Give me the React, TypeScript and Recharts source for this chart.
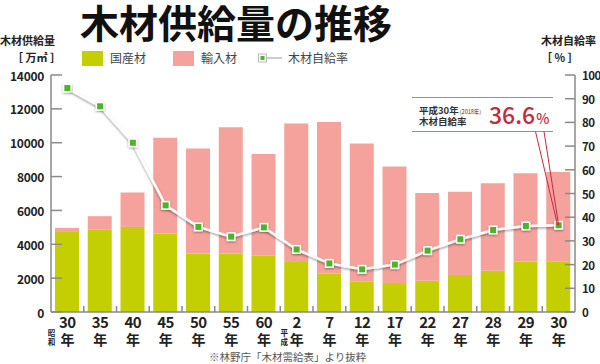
// 木材供給量の推移 — 国産材/輸入材の積み上げ棒と木材自給率の折れ線
import { Bar, ComposedChart, Line, ReferenceDot, XAxis, YAxis } from 'recharts'

// 年次キー（昭和30年と平成30年が重なるので元号の頭文字つき）
const years = ['S30', 'S35', 'S40', 'S45', 'S50', 'S55', 'S60', 'H2', 'H7', 'H12', 'H17', 'H22', 'H27', 'H28', 'H29', 'H30']
const yearLabels = ['30', '35', '40', '45', '50', '55', '60', '2', '7', '12', '17', '22', '27', '28', '29', '30']
// 国産材・輸入材 [万㎥]
const domestic = [4730, 4890, 5030, 4630, 3460, 3460, 3330, 2950, 2280, 1790, 1710, 1840, 2190, 2440, 2980, 3000]
const imported = [240, 770, 2030, 5660, 6200, 7460, 6000, 8190, 8940, 8170, 6890, 5190, 4920, 5160, 5210, 5270]
// 木材自給率 [%]
const selfRate = [94.5, 86.8, 71.4, 45.0, 35.9, 31.8, 35.7, 26.4, 20.5, 18.0, 20.0, 25.9, 30.7, 34.6, 36.3, 36.6]
const leftTicks = [0, 2000, 4000, 6000, 8000, 10000, 12000, 14000]
const rightTicks = [0, 10, 20, 30, 40, 50, 60, 70, 80, 90, 100]
const eraLabels: Record<string, string[]> = { S30: ['昭', '和'], H2: ['平', '成'] }

const data = years.map((y, i) => ({
  year: y,
  label: yearLabels[i],
  domestic: domestic[i],
  imported: imported[i],
  rate: selfRate[i],
}))

const W = 600
const H = 364
const LEFT_W = 51
const RIGHT_W = 25
const TOP = 75
const X_H = 52
const BAND = (W - LEFT_W - RIGHT_W) / years.length

const FONT = '"Noto Sans CJK JP", "Noto Sans", sans-serif'
const AXIS = '#8a8a8a'
const GREEN_BAR = '#c3ce03'
const PINK_BAR = '#f4a29b'
const DOT_GREEN = '#4cb52c'
const RED = '#c62a3c'

function LeftTick({ x, y, payload }: any) {
  return (
    <g>
      <line x1={x + 7} x2={x + 18} y1={y} y2={y} stroke={AXIS} strokeWidth={1.5} />
      <text x={x} y={y} textAnchor="end" dominantBaseline="central" fontSize={12} fontWeight={700} fill="#222" fontFamily={FONT} letterSpacing={-0.3}>
        {payload.value}
      </text>
    </g>
  )
}

function RightTick({ x, y, payload }: any) {
  return (
    <g>
      <line x1={x - 8} x2={x - 18} y1={y} y2={y} stroke={AXIS} strokeWidth={1.5} />
      <text x={x - 1} y={y} textAnchor="start" dominantBaseline="central" fontSize={11.5} fontWeight={700} fill="#222" fontFamily={FONT} letterSpacing={-0.5}>
        {payload.value}
      </text>
    </g>
  )
}

function YearTick({ x, y, payload, index }: any) {
  const era = eraLabels[payload.value]
  const eraDx = payload.value === 'S30' ? -16 : -12.5
  return (
    <g fontFamily={FONT} fill="#222">
      {/* 区切りの目盛り（内向き） */}
      {index > 0 && <line x1={x - BAND / 2} x2={x - BAND / 2} y1={y} y2={y - 6} stroke={AXIS} strokeWidth={1.5} />}
      <text x={x} y={y + 16} textAnchor="middle" fontSize={15} fontWeight={700} letterSpacing={-0.5}>
        {yearLabels[index]}
      </text>
      <text x={x} y={y + 33} textAnchor="middle" fontSize={14} fontWeight={700}>
        年
      </text>
      {era && (
        <g fontSize={7.5} fontWeight={700}>
          <text x={x + eraDx} y={y + 24} textAnchor="middle">{era[0]}</text>
          <text x={x + eraDx} y={y + 33} textAnchor="middle">{era[1]}</text>
        </g>
      )}
    </g>
  )
}

function RateDot({ cx, cy }: any) {
  if (cx == null || cy == null) return null
  return (
    <g filter="url(#dotShadow)">
      <rect x={cx - 4.5} y={cy - 4.5} width={9} height={9} fill="#fff" />
      <rect x={cx - 3} y={cy - 3} width={6} height={6} fill={DOT_GREEN} />
    </g>
  )
}

// 平成30年の吹き出し
function Callout({ cx, cy }: any) {
  if (cx == null || cy == null) return null
  return (
    <g fontFamily={FONT}>
      <line x1={412} x2={553} y1={97.5} y2={97.5} stroke="#e07078" strokeWidth={1.2} />
      <line x1={412} x2={553} y1={131.5} y2={131.5} stroke="#e07078" strokeWidth={1.2} />
      <line x1={535.5} y1={131.5} x2={cx - 1} y2={cy} stroke={RED} strokeWidth={1} />
      <line x1={544} y1={131.5} x2={cx} y2={cy} stroke={RED} strokeWidth={1} />
      <text x={419} y={113.5} fontSize={9.5} fontWeight={700} fill="#333">
        平成30年<tspan fontSize={5.5} dx={1} fontWeight={400}>(2018年)</tspan>
      </text>
      <text x={419} y={125} fontSize={9.5} fontWeight={700} fill="#333">木材自給率</text>
      <text x={489} y={124} fontSize={23} fontWeight={500} fill={RED}>
        36.6<tspan fontSize={14} dx={1}>%</tspan>
      </text>
    </g>
  )
}

function App() {
  return (
    <div style={{ position: 'absolute', left: 0, top: 0, width: W, height: H, background: '#fff', fontFamily: FONT }}>
      <ComposedChart width={W} height={H} data={data} margin={{ top: TOP, right: 0, bottom: 0, left: 0 }}>
        <defs>
          <filter id="lineShadow" x="-10%" y="-10%" width="120%" height="130%">
            <feDropShadow dx="0" dy="1.5" stdDeviation="1.2" floodColor="#000" floodOpacity="0.4" />
          </filter>
          <filter id="dotShadow" x="-50%" y="-50%" width="200%" height="200%">
            <feDropShadow dx="0" dy="1" stdDeviation="1" floodColor="#000" floodOpacity="0.4" />
          </filter>
        </defs>
        <XAxis
          dataKey="year"
          height={X_H}
          interval={0}
          tickSize={0}
          tickMargin={0}
          tickLine={false}
          axisLine={{ stroke: AXIS, strokeWidth: 1.5 }}
          tick={<YearTick />}
        />
        <YAxis
          yAxisId="left"
          width={LEFT_W}
          domain={[0, 14000]}
          ticks={leftTicks}
          tickSize={0}
          tickMargin={7}
          tickLine={false}
          axisLine={{ stroke: AXIS, strokeWidth: 1.5 }}
          tick={<LeftTick />}
        />
        <YAxis
          yAxisId="right"
          orientation="right"
          width={RIGHT_W}
          domain={[0, 100]}
          ticks={rightTicks}
          tickSize={0}
          tickMargin={8}
          tickLine={false}
          axisLine={{ stroke: AXIS, strokeWidth: 1.5 }}
          tick={<RightTick />}
        />
        <Bar yAxisId="left" dataKey="domestic" stackId="a" fill={GREEN_BAR} barSize={24} isAnimationActive={false} />
        <Bar yAxisId="left" dataKey="imported" stackId="a" fill={PINK_BAR} barSize={24} isAnimationActive={false} />
        <Line
          yAxisId="right"
          dataKey="rate"
          type="linear"
          stroke="#fff"
          strokeWidth={2.5}
          filter="url(#lineShadow)"
          dot={<RateDot />}
          activeDot={false}
          isAnimationActive={false}
        />
        <ReferenceDot yAxisId="right" x="H30" y={36.6} r={0} shape={<Callout />} />
      </ComposedChart>

      {/* タイトル */}
      <div style={{ position: 'absolute', left: 80, top: -4, fontSize: 39, lineHeight: '50px', fontWeight: 700, color: '#111', whiteSpace: 'nowrap' }}>
        木材供給量の推移
      </div>

      {/* 軸タイトル */}
      <div style={{ position: 'absolute', left: 0, top: 32, fontSize: 11, fontWeight: 700, color: '#222', lineHeight: '17px' }}>
        <div>木材供給量</div>
        <div style={{ paddingLeft: 12 }}>［ 万㎡ ］</div>
      </div>
      <div style={{ position: 'absolute', left: 541, top: 32, fontSize: 11, fontWeight: 700, color: '#222', lineHeight: '17px' }}>
        <div>木材自給率</div>
        <div>［ % ］</div>
      </div>

      {/* 凡例 */}
      <div style={{ position: 'absolute', left: 82, top: 50, height: 16, display: 'flex', alignItems: 'center', fontSize: 12, lineHeight: '16px', color: '#444', whiteSpace: 'nowrap' }}>
        <span style={{ width: 21, height: 15, background: GREEN_BAR, display: 'inline-block' }} />
        <span style={{ marginLeft: 7, marginRight: 27 }}>国産材</span>
        <span style={{ width: 21, height: 15, background: PINK_BAR, display: 'inline-block' }} />
        <span style={{ marginLeft: 7, marginRight: 20 }}>輸入材</span>
        <svg width={26} height={12}>
          <line x1={6} x2={25} y1={6} y2={6} stroke="#999" strokeWidth={1} />
          <rect x={1.5} y={2} width={8} height={8} fill="#fff" stroke="#bbb" strokeWidth={1} />
          <rect x={3.5} y={4} width={4} height={4} fill={DOT_GREEN} />
        </svg>
        <span style={{ marginLeft: 5 }}>木材自給率</span>
      </div>

      {/* 出典 */}
      <div style={{ position: 'absolute', left: 209, top: 351, fontSize: 10.5, lineHeight: '12px', color: '#555', whiteSpace: 'nowrap' }}>
        ※林野庁「木材需給表」より抜粋
      </div>
    </div>
  )
}

export default App
